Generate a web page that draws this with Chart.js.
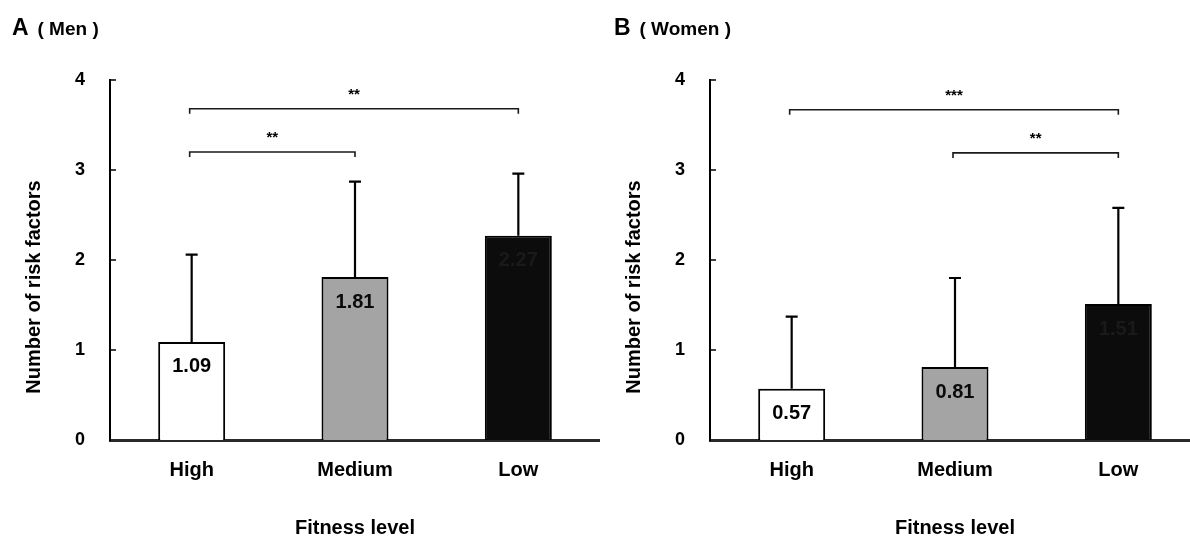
<!DOCTYPE html>
<html>
<head>
<meta charset="utf-8">
<script src="https://cdn.jsdelivr.net/npm/chart.js@4.4.1/dist/chart.umd.min.js"></script>
<style>
  html, body { margin: 0; padding: 0; background: #fff; overflow: hidden; width: 1190px; height: 540px; }
  .panel { position: absolute; top: 0; width: 600px; height: 540px; }
  .ttl { position: absolute; top: 14px; font-family: "Liberation Sans", Arial, sans-serif; font-weight: bold; color: #000; white-space: pre; }
  .ttl b { font-size: 23px; }
  .ttl span { font-size: 19px; }
</style>
</head>
<body>
<div class="panel" style="left:0"><canvas id="cMen" width="600" height="540"></canvas></div>
<div class="panel" style="left:600px"><canvas id="cWomen" width="600" height="540"></canvas></div>
<div class="ttl" style="left:12px"><b>A</b>  <span>( Men )</span></div>
<div class="ttl" style="left:614px"><b>B</b>  <span>( Women )</span></div>

<script>
// ── data ─────────────────────────────────────────────────────────────
const fitnessLevels = ['High', 'Medium', 'Low'];

const menMean   = [1.09, 1.81, 2.27];
const menSd     = [0.97, 1.06, 0.69];
const womenMean = [0.57, 0.81, 1.51];
const womenSd   = [0.80, 0.99, 1.07];

// significance brackets: [from category, to category, level on y axis, label]
const menBrackets   = [[0, 2, 3.68, '**'], [0, 1, 3.2, '**']];
const womenBrackets = [[0, 2, 3.67, '***'], [1, 2, 3.19, '**']];

const yTitle = 'Number of risk factors';
const xTitle = 'Fitness level';

// ── styles ───────────────────────────────────────────────────────────
const FONT = '"Liberation Sans", Arial, sans-serif';
const barFills  = ['#ffffff', '#a4a4a4', '#0c0c0c'];
const valueInk  = ['#000000', '#0a0a0a', '#1a1a1a'];

// error bars, values in bars, brackets, inward ticks and rotated y title
const panelExtras = (means, sds, brackets) => ({
  id: 'panelExtras',
  afterDatasetsDraw(chart) {
    const { ctx, scales: { x, y } } = chart;
    const bars = chart.getDatasetMeta(0).data;
    ctx.save();
    ctx.strokeStyle = '#000';
    ctx.lineWidth = 2.2;

    // upper error bars
    bars.forEach((bar, i) => {
      const top = y.getPixelForValue(means[i] + sds[i]);
      ctx.beginPath();
      ctx.moveTo(bar.x, bar.y); ctx.lineTo(bar.x, top);
      ctx.moveTo(bar.x - 6, top); ctx.lineTo(bar.x + 6, top);
      ctx.stroke();
    });

    // mean values inside the bars
    ctx.font = `bold 20px ${FONT}`;
    ctx.textAlign = 'center';
    ctx.textBaseline = 'middle';
    bars.forEach((bar, i) => {
      ctx.fillStyle = valueInk[i];
      ctx.fillText(means[i].toFixed(2), bar.x, bar.y + 25);
    });

    // significance brackets
    ctx.lineWidth = 1.6;
    ctx.strokeStyle = '#1a1a1a';
    ctx.fillStyle = '#000';
    ctx.font = `bold 15px ${FONT}`;
    brackets.forEach(([from, to, level, label]) => {
      const x1 = x.getPixelForValue(from) - 2, x2 = x.getPixelForValue(to);
      const py = y.getPixelForValue(level);
      ctx.beginPath();
      ctx.moveTo(x1, py + 5); ctx.lineTo(x1, py); ctx.lineTo(x2, py); ctx.lineTo(x2, py + 5);
      ctx.stroke();
      ctx.fillText(label, (x1 + x2) / 2, py - 14);
    });

    // small inward ticks on the y axis
    ctx.lineWidth = 1.5;
    ctx.strokeStyle = '#000';
    ctx.beginPath();
    y.ticks.forEach(t => {
      if (t.value === 0) return;
      const py = y.getPixelForValue(t.value);
      ctx.moveTo(x.left, py); ctx.lineTo(x.left + 6, py);
    });
    ctx.stroke();

    // y axis title
    ctx.font = `bold 20px ${FONT}`;
    ctx.translate(34, 287);
    ctx.rotate(-Math.PI / 2);
    ctx.fillText(yTitle, 0, 0);
    ctx.restore();
  }
});

function makePanel(id, means, sds, brackets) {
  return new Chart(document.getElementById(id), {
    type: 'bar',
    data: {
      labels: fitnessLevels,
      datasets: [{ data: means, backgroundColor: barFills, borderColor: '#000', borderWidth: 2,
                   barPercentage: 0.41, categoryPercentage: 1 }]
    },
    options: {
      responsive: false, animation: false,
      layout: { padding: { top: 80, left: 0, right: 0, bottom: 0 } },
      plugins: { legend: { display: false }, tooltip: { enabled: false } },
      scales: {
        x: {
          grid: { display: false, drawTicks: false },
          border: { color: '#2a2a2a', width: 3 },
          ticks: { color: '#000', font: { family: FONT, size: 20, weight: 'bold' }, padding: 18 },
          title: { display: true, text: xTitle, color: '#000', font: { family: FONT, size: 20, weight: 'bold' }, padding: 0 },
          afterFit: s => { s.height = 100; }
        },
        y: {
          min: 0, max: 4,
          grid: { display: false, drawTicks: false },
          border: { color: '#000', width: 2 },
          ticks: { stepSize: 1, color: '#000', font: { family: FONT, size: 18, weight: 'bold' }, padding: 25 },
          afterFit: s => { s.width = 110; }
        }
      }
    },
    plugins: [panelExtras(means, sds, brackets)]
  });
}

makePanel('cMen', menMean, menSd, menBrackets);
makePanel('cWomen', womenMean, womenSd, womenBrackets);
</script>
</body>
</html>
